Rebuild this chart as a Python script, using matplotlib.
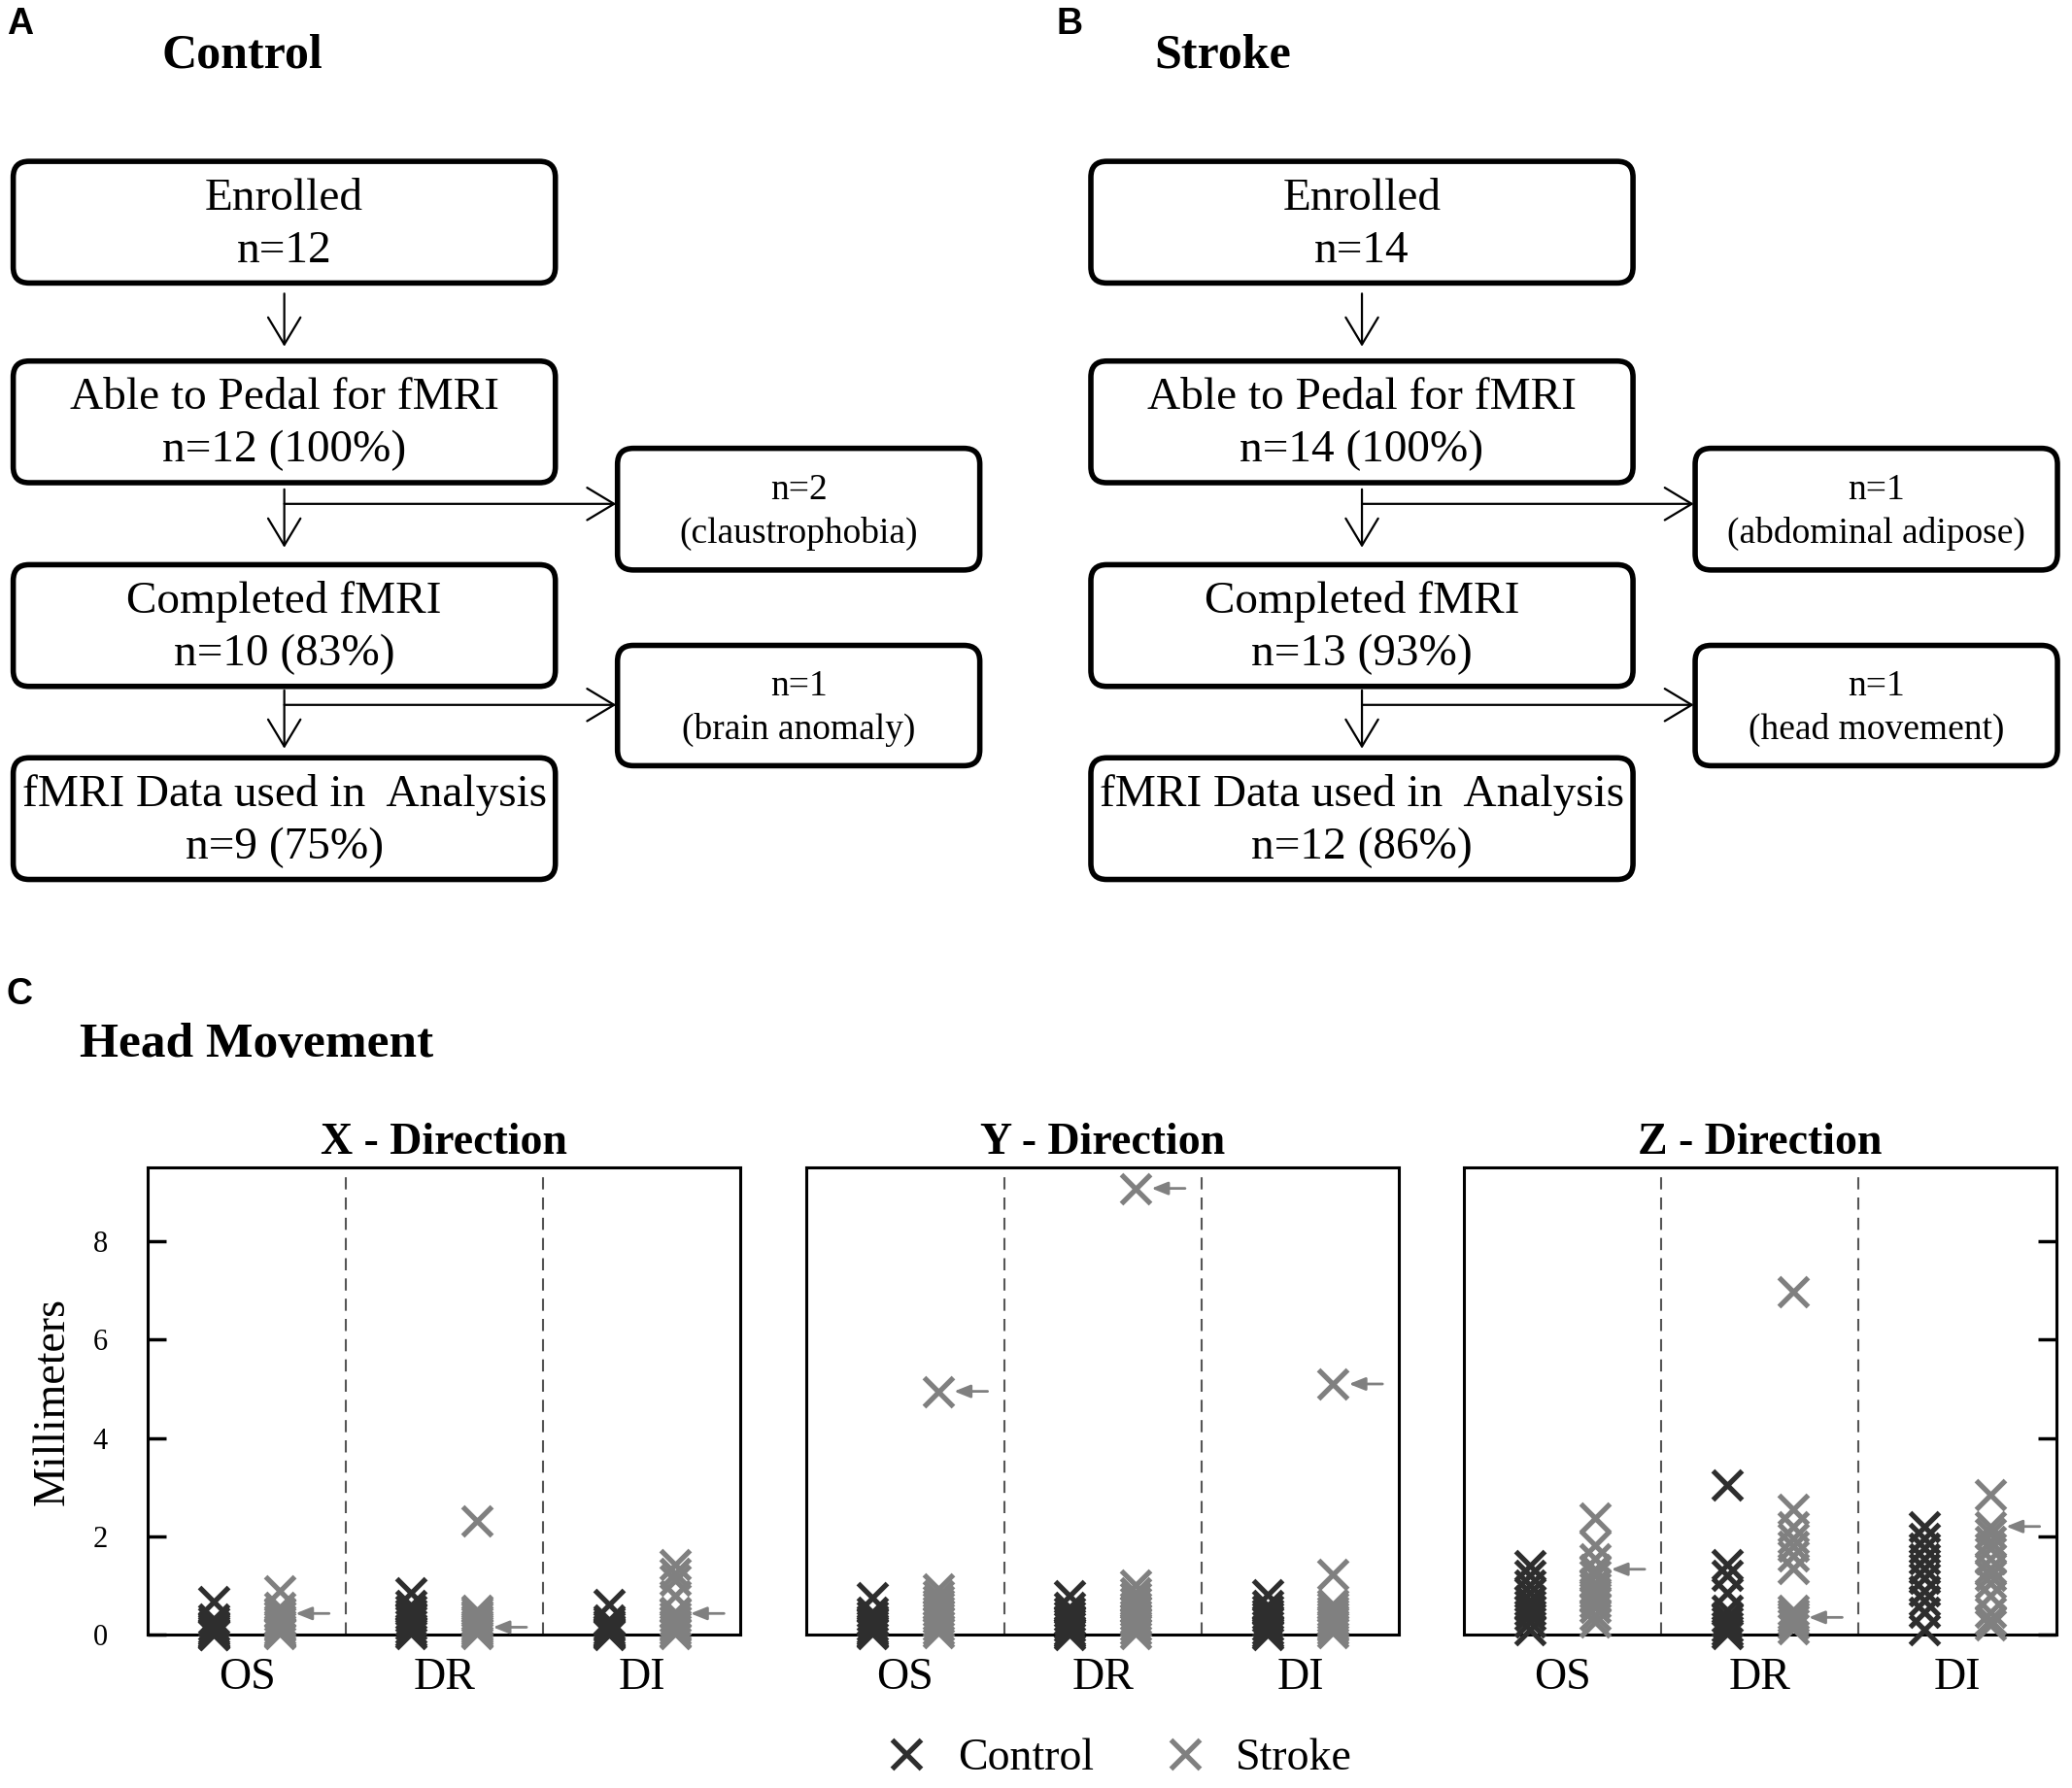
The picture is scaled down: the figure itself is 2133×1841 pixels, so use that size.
import matplotlib
matplotlib.use("Agg")
import matplotlib.pyplot as plt
from matplotlib.patches import FancyBboxPatch
from matplotlib.lines import Line2D

plt.rcParams['font.family'] = ['Liberation Serif', 'DejaVu Serif']

# ---- flowchart text ----
ctrl_steps = ["Enrolled\nn=12", "Able to Pedal for fMRI\nn=12 (100%)",
              "Completed fMRI\nn=10 (83%)", "fMRI Data used in  Analysis\nn=9 (75%)"]
ctrl_drops = ["n=2\n(claustrophobia)", "n=1\n(brain anomaly)"]
stroke_steps = ["Enrolled\nn=14", "Able to Pedal for fMRI\nn=14 (100%)",
                "Completed fMRI\nn=13 (93%)", "fMRI Data used in  Analysis\nn=12 (86%)"]
stroke_drops = ["n=1\n(abdominal adipose)", "n=1\n(head movement)"]

# ---- head movement data (mm), one list per condition OS, DR, DI ----
conditions = ["OS", "DR", "DI"]
directions = ["X - Direction", "Y - Direction", "Z - Direction"]

ctrl_x = [[0.68, 0.32, 0.25, 0.18, 0.12, 0.08, 0.05, 0.03, 0.01, 0.0],
          [0.85, 0.6, 0.5, 0.42, 0.35, 0.28, 0.2, 0.12, 0.06, 0.02],
          [0.62, 0.3, 0.25, 0.2, 0.15, 0.1, 0.07, 0.04, 0.02, 0.0]]
stroke_x = [[0.9, 0.55, 0.45, 0.43, 0.38, 0.3, 0.25, 0.2, 0.15, 0.1, 0.07, 0.04, 0.02],
            [2.32, 0.5, 0.45, 0.4, 0.35, 0.3, 0.25, 0.2, 0.15, 0.12, 0.08, 0.05, 0.02],
            [1.42, 1.25, 1.1, 0.8, 0.45, 0.43, 0.35, 0.28, 0.2, 0.15, 0.1, 0.05, 0.02]]
ctrl_y = [[0.76, 0.45, 0.38, 0.3, 0.25, 0.18, 0.12, 0.08, 0.04, 0.02],
          [0.8, 0.55, 0.45, 0.38, 0.3, 0.22, 0.15, 0.08, 0.04, 0.0],
          [0.82, 0.6, 0.5, 0.42, 0.35, 0.25, 0.18, 0.1, 0.04, 0.0]]
stroke_y = [[4.95, 0.92, 0.8, 0.7, 0.62, 0.55, 0.48, 0.4, 0.33, 0.25, 0.18, 0.1, 0.05],
            [9.08, 1.0, 0.85, 0.75, 0.65, 0.55, 0.48, 0.4, 0.32, 0.25, 0.18, 0.1, 0.02],
            [5.1, 1.22, 0.62, 0.55, 0.48, 0.42, 0.36, 0.3, 0.25, 0.2, 0.15, 0.1, 0.05]]
ctrl_z = [[1.4, 1.2, 1.0, 0.85, 0.7, 0.6, 0.5, 0.4, 0.25, 0.1],
          [3.05, 1.42, 1.2, 0.85, 0.5, 0.35, 0.25, 0.15, 0.08, 0.02],
          [2.2, 1.95, 1.75, 1.55, 1.35, 1.15, 0.9, 0.7, 0.45, 0.1]]
stroke_z = [[2.38, 1.82, 1.55, 1.33, 1.2, 1.05, 0.95, 0.85, 0.75, 0.65, 0.55, 0.4, 0.25],
            [6.98, 2.55, 2.2, 1.95, 1.8, 1.6, 1.35, 0.5, 0.42, 0.35, 0.3, 0.22, 0.12],
            [2.85, 2.2, 2.05, 1.9, 1.75, 1.55, 1.35, 1.2, 1.05, 0.8, 0.45, 0.3, 0.2]]
# value of the flagged (excluded, head movement) stroke subject
flag_x = [0.43, 0.15, 0.43]
flag_y = [4.95, 9.08, 5.1]
flag_z = [1.33, 0.35, 2.2]

CTRL_COL = '#2e2e2e'
STROKE_COL = '#808080'

# reference layout units (picture is drawn on a 1567 x 1352 grid)
W, H = 1567, 1352
fig = plt.figure(figsize=(21.33, 18.41), dpi=100)
bg = fig.add_axes([0, 0, 1, 1])
bg.set_xlim(0, W)
bg.set_ylim(H, 0)
bg.axis('off')


def box(x0, y0, x1, y1, text, size):
    p = FancyBboxPatch((x0, y0), x1 - x0, y1 - y0,
                       boxstyle="round,pad=0,rounding_size=12",
                       fc='white', ec='black', lw=4)
    bg.add_patch(p)
    bg.text((x0 + x1) / 2, (y0 + y1) / 2 + 2, text, ha='center', va='center',
            fontsize=size, linespacing=1.35)


def arrow(x0, y0, x1, y1):
    bg.annotate("", xy=(x1, y1), xytext=(x0, y0),
                arrowprops=dict(arrowstyle="->,head_length=0.5,head_width=0.3",
                                lw=1.6, color='black', mutation_scale=40,
                                shrinkA=0, shrinkB=0))


def flowchart(dx, steps, drops):
    cx = 215 + dx
    tops = [122, 273, 427, 573]
    for t, s in zip(tops, steps):
        box(10 + dx, t, 420 + dx, t + 92, s, 34)
    box(467 + dx, 339, 741 + dx, 431, drops[0], 27)
    box(467 + dx, 488, 741 + dx, 579, drops[1], 27)
    arrow(cx, 222, cx, 262)
    arrow(cx, 370, cx, 414)
    arrow(cx, 381, 466 + dx, 381)
    arrow(cx, 522, cx, 566)
    arrow(cx, 533, 466 + dx, 533)


flowchart(0, ctrl_steps, ctrl_drops)
flowchart(815, stroke_steps, stroke_drops)

lab = dict(family=['Liberation Sans', 'DejaVu Sans'], fontweight='bold', fontsize=27,
           ha='center', va='center')
bg.text(15, 18, "A", **lab)
bg.text(809, 18, "B", **lab)
bg.text(15, 752, "C", **lab)
bg.text(183, 42, "Control", fontsize=36, fontweight='bold', ha='center', va='center')
bg.text(925, 42, "Stroke", fontsize=36, fontweight='bold', ha='center', va='center')
bg.text(60, 790, "Head Movement", fontsize=37, fontweight='bold', ha='left', va='center')

# ---- scatter panels ----
panel_left = [112, 610, 1107]
panel_data = [(ctrl_x, stroke_x, flag_x), (ctrl_y, stroke_y, flag_y), (ctrl_z, stroke_z, flag_z)]
for k in range(3):
    left = panel_left[k]
    ax = fig.add_axes([left / W, 1 - 1236 / H, 448 / W, 353 / H])
    ax.set_xlim(0, 3)
    ax.set_ylim(0, 9.5)
    ctrl, stroke, flag = panel_data[k]
    for i in range(3):
        ax.plot([i + 1 / 3] * len(ctrl[i]), ctrl[i], ls='none', marker='x', ms=22,
                mew=3.8, color=CTRL_COL, clip_on=False, zorder=3)
        ax.plot([i + 2 / 3] * len(stroke[i]), stroke[i], ls='none', marker='x', ms=22,
                mew=3.8, color=STROKE_COL, clip_on=False, zorder=3)
        ax.annotate("", xy=(i + 2 / 3 + 0.08, flag[i]), xytext=(i + 2 / 3 + 0.25, flag[i]),
                    arrowprops=dict(arrowstyle="-|>,head_length=0.5,head_width=0.2",
                                    lw=2, color=STROKE_COL, mutation_scale=20,
                                    shrinkA=0, shrinkB=0))
    for xv in [1, 2]:
        ax.axvline(xv, color='#555555', lw=1.5, ls=(0, (6, 4)))
    ax.set_xticks([0.5, 1.5, 2.5])
    ax.set_xticklabels(conditions, fontsize=33)
    ax.tick_params(axis='x', length=0, pad=17)
    ax.set_yticks([0, 2, 4, 6, 8])
    if k == 0:
        ax.tick_params(axis='y', direction='in', length=14, width=2.5, labelsize=22, pad=30)
        ax.set_ylabel("Millimeters", fontsize=33, labelpad=14)
    elif k == 2:
        ax.yaxis.tick_right()
        ax.tick_params(axis='y', direction='in', length=14, width=2.5, labelright=False)
    else:
        ax.tick_params(axis='y', length=0, labelleft=False)
    for s in ax.spines.values():
        s.set_linewidth(2.2)
    ax.set_title(directions[k], fontsize=33, fontweight='bold', pad=10)

handles = [Line2D([], [], ls='none', marker='x', ms=22, mew=3.8, color=CTRL_COL),
           Line2D([], [], ls='none', marker='x', ms=22, mew=3.8, color=STROKE_COL)]
fig.legend(handles, ["Control", "Stroke"], loc='center', bbox_to_anchor=(844 / W, 1 - 1330 / H),
           ncol=2, frameon=False, fontsize=33, handletextpad=0.55, columnspacing=1.45,
           handlelength=1.2)

fig.savefig("out.png", dpi=100)
